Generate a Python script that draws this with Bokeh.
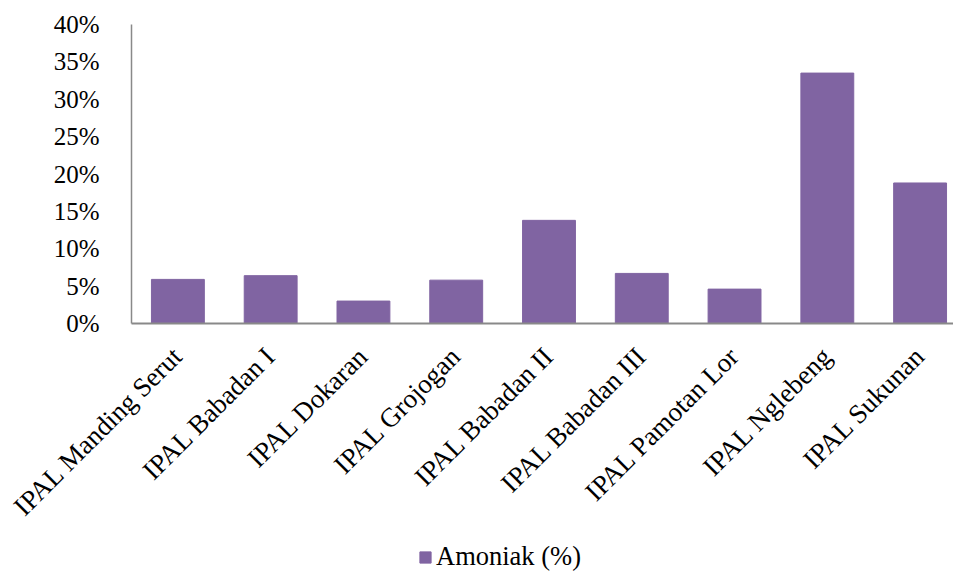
import math

from bokeh.embed import file_html
from bokeh.layouts import column
from bokeh.models import (ColumnDataSource, FixedTicker, Legend, LegendItem,
                          PrintfTickFormatter, Range1d)
from bokeh.plotting import figure
from bokeh.resources import INLINE

# Ammonia percentage per wastewater treatment site (IPAL)
sites = [
    "IPAL Manding Serut",
    "IPAL Babadan I",
    "IPAL Dokaran",
    "IPAL Grojogan",
    "IPAL Babadan II",
    "IPAL Babadan III",
    "IPAL Pamotan Lor",
    "IPAL Nglebeng",
    "IPAL Sukunan",
]
amoniak = [5.9, 6.4, 3.0, 5.8, 13.8, 6.7, 4.6, 33.5, 18.8]
y_ticks = [0, 5, 10, 15, 20, 25, 30, 35, 40]
series_name = "Amoniak (%)"

FONT = "'Times New Roman', 'Liberation Serif', serif"
BAR_COLOR = "#8064A2"
AXIS_COLOR = "#898989"

positions = [i + 0.5 for i in range(len(sites))]
source = ColumnDataSource(data=dict(x=positions, top=amoniak, site=sites))

p = figure(
    width=953,
    height=540,
    x_range=Range1d(0, 8.86),
    y_range=Range1d(0, 40),
    output_backend="svg",
    toolbar_location=None,
    min_border_left=131,
    min_border_right=0,
    min_border_top=24,
    min_border_bottom=217,
)
p.outline_line_color = None
p.xgrid.grid_line_color = None
p.ygrid.grid_line_color = None

p.vbar(x="x", top="top", width=0.57, bottom=0, source=source,
       fill_color=BAR_COLOR, line_color=BAR_COLOR)

# y axis: percentages, no tick marks
p.yaxis.ticker = FixedTicker(ticks=y_ticks)
p.yaxis.formatter = PrintfTickFormatter(format="%d%%")
p.yaxis.major_tick_line_color = None
p.yaxis.minor_tick_line_color = None
p.yaxis.major_label_standoff = 26
p.yaxis.axis_line_color = AXIS_COLOR
p.yaxis.axis_line_width = 1.5
p.yaxis.major_label_text_font = FONT
p.yaxis.major_label_text_font_size = "25px"
p.yaxis.major_label_text_color = "black"

# x axis: site names, rotated 45 degrees
p.xaxis.ticker = FixedTicker(ticks=positions)
p.xaxis.major_label_overrides = {pos: name for pos, name in zip(positions, sites)}
p.xaxis.major_label_orientation = math.pi / 4
p.xaxis.major_tick_line_color = None
p.xaxis.minor_tick_line_color = None
p.xaxis.major_label_standoff = 22
p.xaxis.axis_line_color = AXIS_COLOR
p.xaxis.axis_line_width = 2
p.xaxis.major_label_text_font = FONT
p.xaxis.major_label_text_font_size = "27px"
p.xaxis.major_label_text_color = "black"

# legend strip under the chart; its bar renderer is hidden, only the key shows
lg = figure(
    width=953,
    height=31,
    x_range=Range1d(500, 501),
    y_range=Range1d(-500, -499),
    output_backend="svg",
    toolbar_location=None,
    x_axis_location=None,
    y_axis_location=None,
    min_border=0,
)
lg.outline_line_color = None
lg.xgrid.grid_line_color = None
lg.ygrid.grid_line_color = None
swatch = lg.vbar(x="x", top="top", width=0.57, bottom=0, source=source,
                 fill_color=BAR_COLOR, line_color=BAR_COLOR)
swatch.visible = False

legend = Legend(
    items=[LegendItem(label=series_name, renderers=[swatch])],
    location=(287, -1),
    orientation="horizontal",
    glyph_width=14,
    glyph_height=14,
    label_standoff=4,
    padding=0,
    margin=0,
    border_line_color=None,
    background_fill_alpha=0,
    inactive_fill_alpha=0,
    label_text_font=FONT,
    label_text_font_size="26.5px",
    label_text_color="black",
)
lg.add_layout(legend, "center")

open("out.html", "w").write(file_html(column(p, lg, spacing=0), INLINE))
